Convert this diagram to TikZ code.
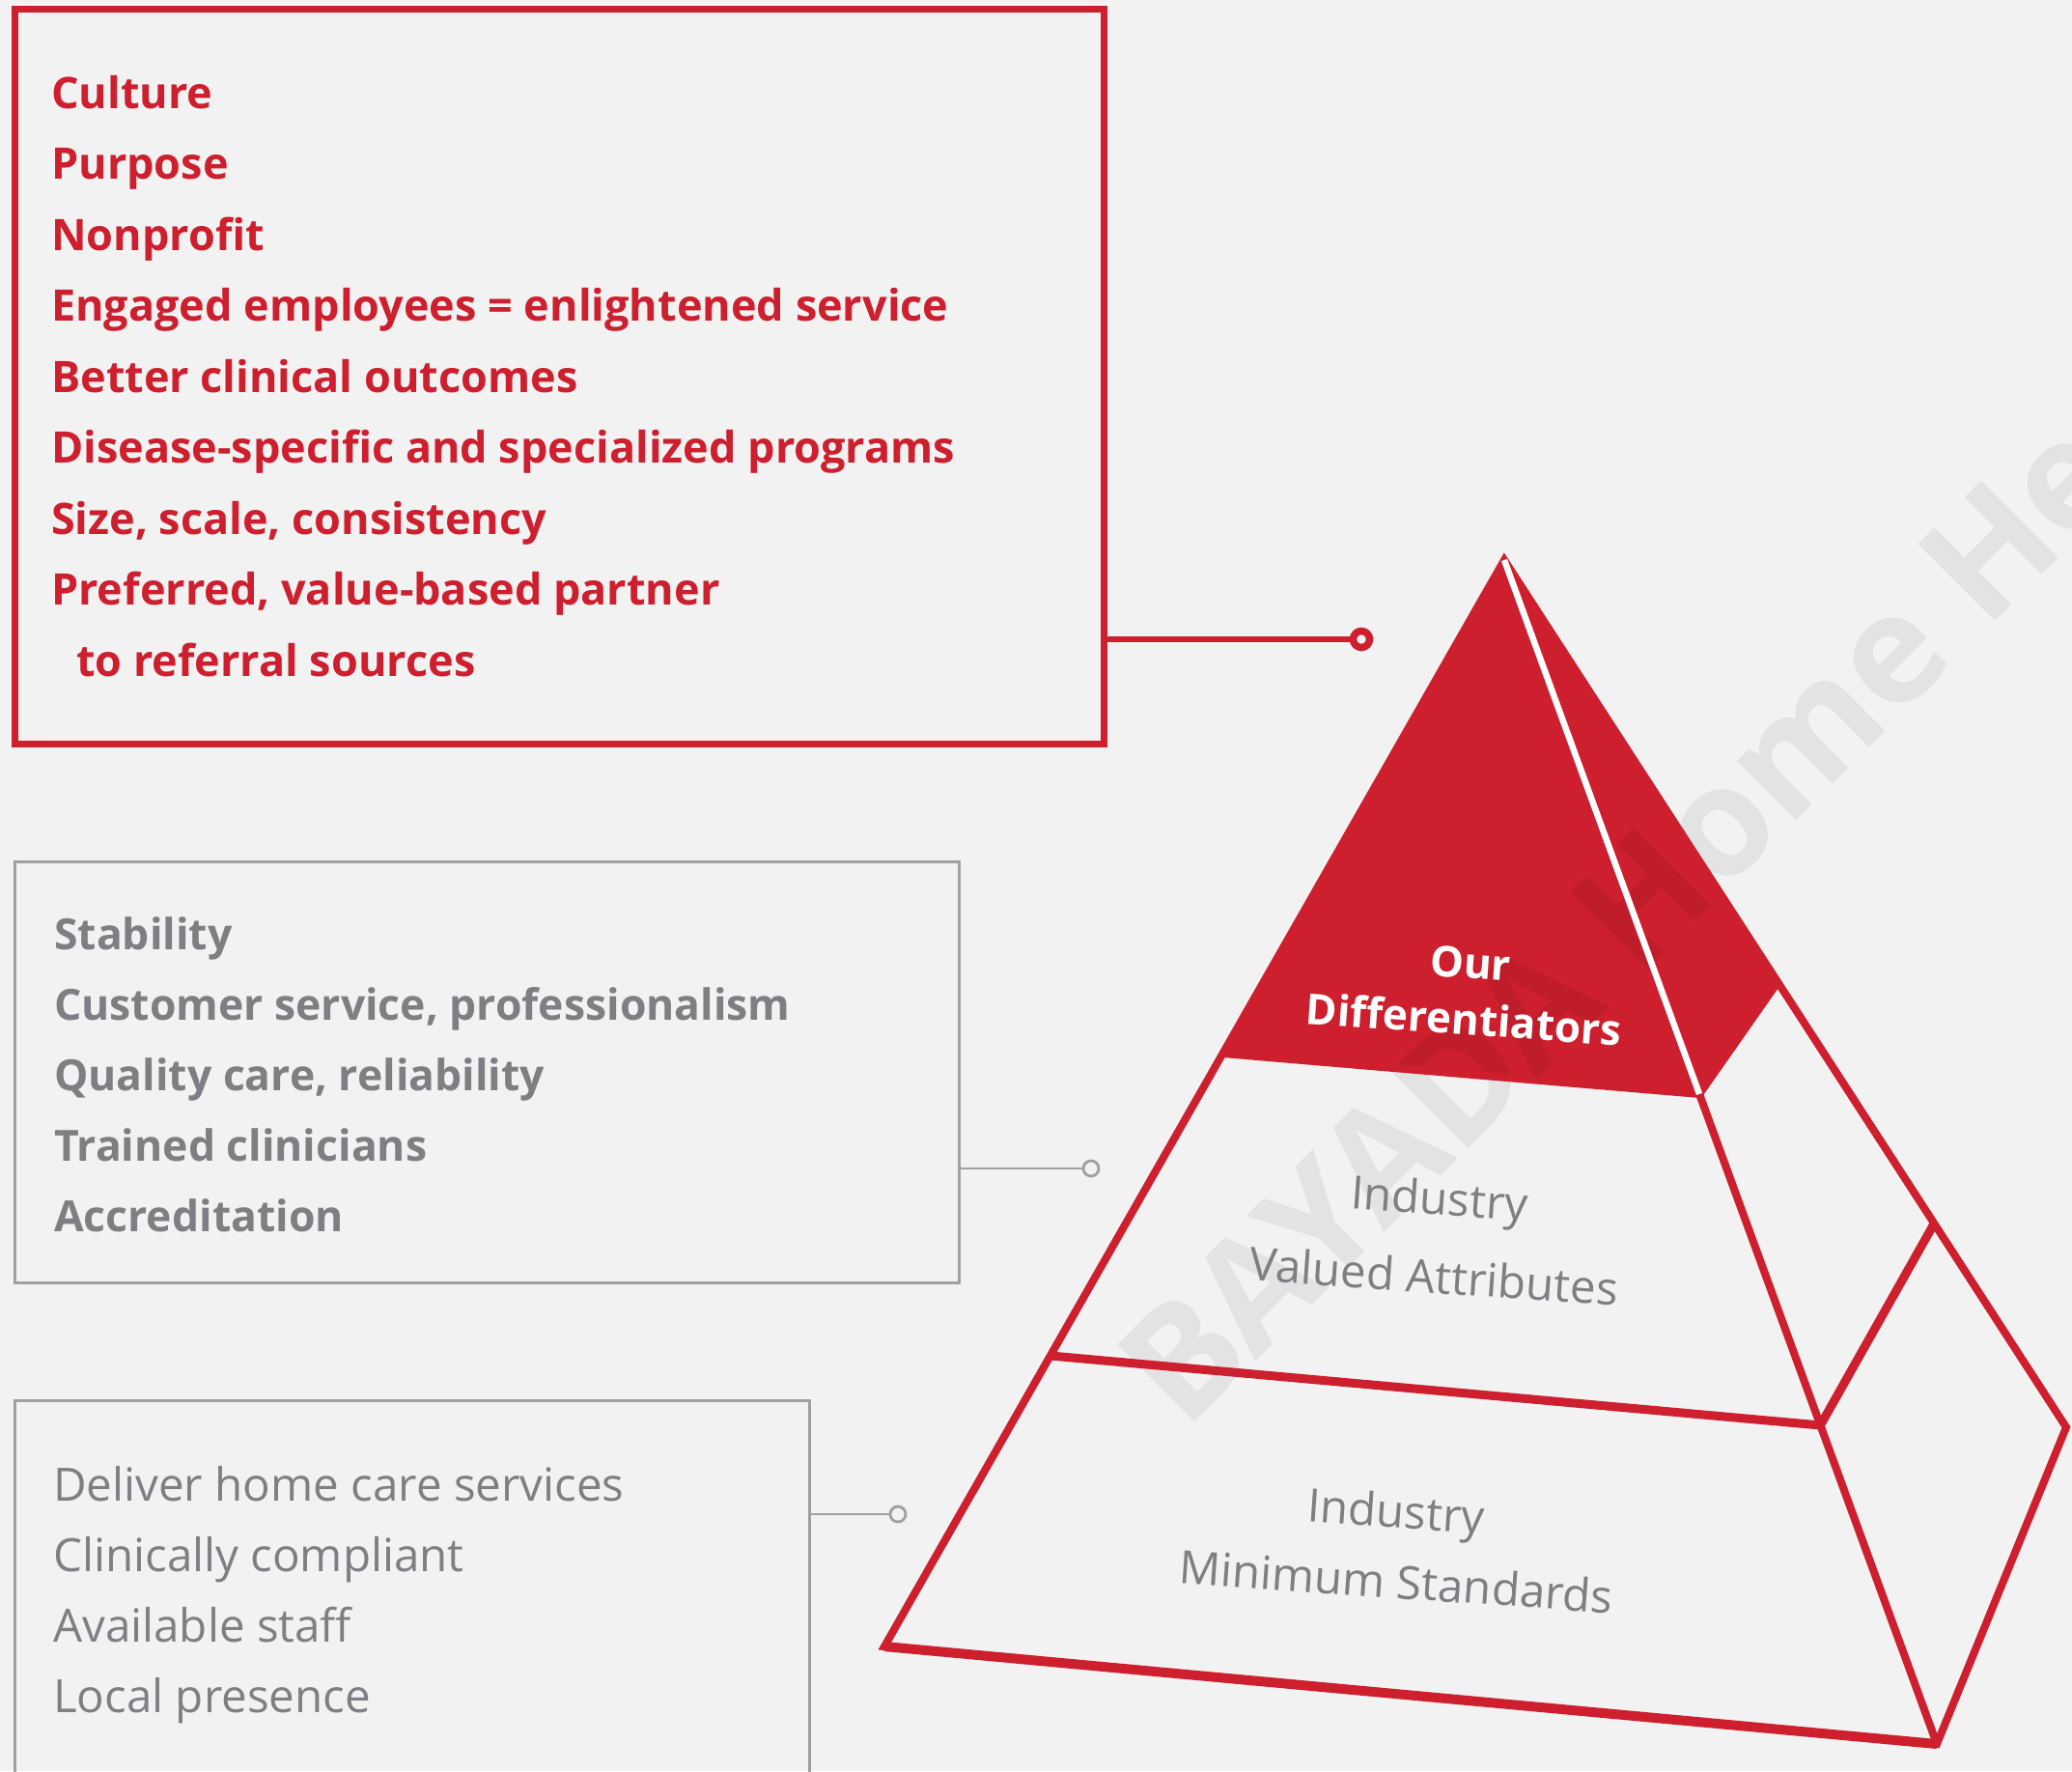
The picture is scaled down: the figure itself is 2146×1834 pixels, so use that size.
\documentclass[tikz,border=0pt]{standalone}
\usepackage{fontspec}
\setmainfont{Open Sans}
\usetikzlibrary{calc}
\definecolor{bred}{RGB}{205,31,46}
\definecolor{bg}{RGB}{242,242,242}
\definecolor{gtext}{RGB}{126,127,130}
\definecolor{gline}{RGB}{160,160,162}
\begin{document}
\begin{tikzpicture}[x=1pt,y=-1pt,
  redtxt/.style={anchor=base west, inner sep=0pt, text=bred, font=\fontsize{45}{54}\selectfont\bfseries},
  graytxtb/.style={anchor=base west, inner sep=0pt, text=gtext, font=\fontsize{44.5}{54}\selectfont\bfseries},
  graytxt/.style={anchor=base west, inner sep=0pt, text=gtext, font=\fontsize{47.5}{54}\selectfont},
  plabelb/.style={anchor=base, inner sep=0pt, text=white, rotate=-4, font=\fontsize{44}{54}\selectfont\bfseries},
  plabel/.style={anchor=base, inner sep=0pt, text=gtext, rotate=-4, font=\fontsize{47.5}{54}\selectfont},
  redbox/.style={draw=bred, line width=7pt, inner sep=0pt, outer sep=0pt, anchor=north west},
  graybox/.style={draw=gline, line width=3pt, inner sep=0pt, outer sep=0pt, anchor=north west},
  redring/.style={circle, draw=bred, fill=bg, line width=7.5pt, minimum size=17pt, inner sep=0pt, outer sep=0pt},
  grayring/.style={circle, draw=gline, fill=bg, line width=2.8pt, minimum size=16pt, inner sep=0pt, outer sep=0pt},
  redconn/.style={draw=bred, line width=6.5pt},
  grayconn/.style={draw=gline, line width=2.8pt},
  pyr/.style={draw=bred, line width=8pt, line join=miter},
  watermark/.style={anchor=base west, inner sep=0pt, text=black, text opacity=0.06, rotate=45, font=\fontsize{158}{180}\selectfont\bfseries}
]
\useasboundingbox (0,0) rectangle (2146,1834);
\fill[bg] (0,0) rectangle (2146,1834);
\clip (0,0) rectangle (2146,1834);

% boxes
\node[redbox, minimum width=1128.5pt, minimum height=760.7pt] (rbox) at (15,9.3) {};
\node[graybox, minimum width=978pt, minimum height=436pt] (gbox1) at (15,892) {};
\node[graybox, minimum width=823pt, minimum height=500pt] (gbox2) at (15,1450.5) {};

% red texts
\node[redtxt] (r1) at (53,112) {Culture};
\node[redtxt] (r2) at (53,185.5) {Purpose};
\node[redtxt] (r3) at (53,259) {Nonprofit};
\node[redtxt] (r4) at (53,332.5) {Engaged employees = enlightened service};
\node[redtxt] (r5) at (53,406) {Better clinical outcomes};
\node[redtxt] (r6) at (53,479.5) {Disease-specific and specialized programs};
\node[redtxt] (r7) at (53,553) {Size, scale, consistency};
\node[redtxt] (r8) at (53,626.5) {Preferred, value-based partner};
\node[redtxt] (r9) at (79,700) {to referral sources};

% gray bold texts
\node[graytxtb] (g1) at (56,983) {Stability};
\node[graytxtb] (g2) at (56,1056) {Customer service, professionalism};
\node[graytxtb] (g3) at (56,1129) {Quality care, reliability};
\node[graytxtb] (g4) at (56,1202) {Trained clinicians};
\node[graytxtb] (g5) at (56,1275) {Accreditation};

% gray regular texts
\node[graytxt] (h1) at (55,1554) {Deliver home care services};
\node[graytxt] (h2) at (55,1627) {Clinically compliant};
\node[graytxt] (h3) at (55,1700) {Available staff};
\node[graytxt] (h4) at (55,1773) {Local presence};

% connectors
\node[redring] (rc) at (1410,662) {};
\node[grayring] (gc1) at (1130,1210) {};
\node[grayring] (gc2) at (930,1568) {};
\draw[redconn] (rbox.east |- rc.center) -- (rc);
\draw[grayconn] (gbox1.east |- gc1.center) -- (gc1);
\draw[grayconn] (gbox2.east |- gc2.center) -- (gc2);

% pyramid
\coordinate (A) at (1558,580);
\coordinate (B1) at (916,1705);
\coordinate (B2) at (2006,1806);
\coordinate (B3) at (2140,1478);
\coordinate (T1L) at ($(A)!0.4542!(B1)$);
\coordinate (T1R) at ($(A)!0.451!(B2)$);
\coordinate (T1B) at ($(A)!0.4866!(B3)$);
\coordinate (T2L) at ($(A)!0.7324!(B1)$);
\coordinate (T2R) at ($(A)!0.7308!(B2)$);
\coordinate (T2B) at ($(A)!0.765!(B3)$);

\fill[bred] (A) -- (T1L) -- (T1R) -- (T1B) -- cycle;

% watermark
\node[watermark] (wm) at (1227,1483) {BAYADA Home Health Care};

\draw[pyr] (A) -- (B1) -- (B2) -- (B3) -- cycle;
\draw[pyr] (A) -- (B2);
\draw[pyr] (T1L) -- (T1R) -- (T1B);
\draw[pyr, line width=9pt] (T2L) -- (T2R) -- (T2B);
\draw[pyr, line width=10pt] (B1) -- (B2);
\draw[white, line width=6.5pt] (A) -- (T1R);

% pyramid labels
\node[plabelb] (our) at (1522,1013) {Our};
\node[plabelb] (diff) at (1515,1071.5) {Differentiators};
\node[plabel] (ind1) at (1490,1258) {Industry};
\node[plabel] (val) at (1484,1339) {Valued Attributes};
\node[plabel] (ind2) at (1445,1582) {Industry};
\node[plabel] (mins) at (1445,1655) {Minimum Standards};
\end{tikzpicture}
\end{document}
